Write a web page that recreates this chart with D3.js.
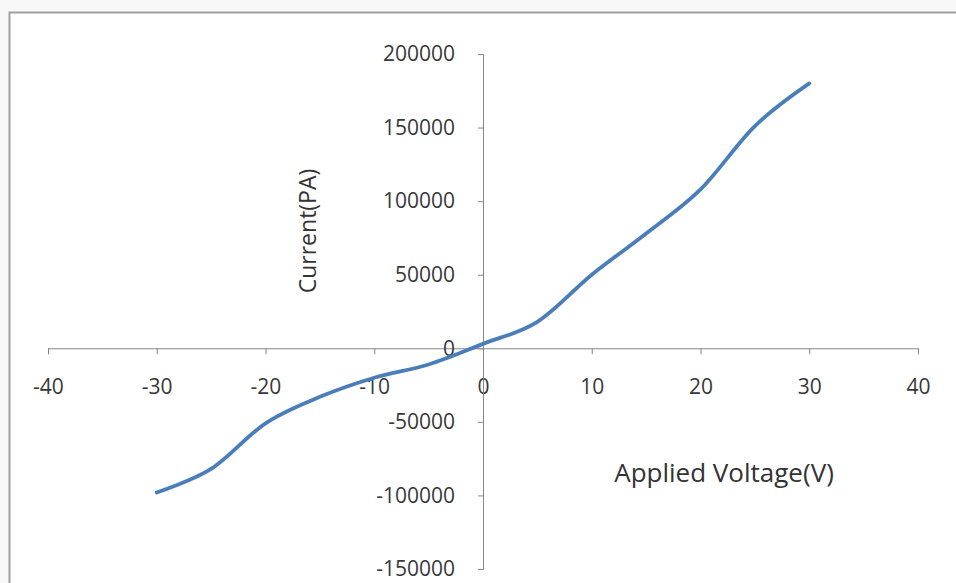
<!DOCTYPE html>
<html>
<head>
<meta charset="utf-8">
<script src="https://cdn.jsdelivr.net/npm/d3@7"></script>
<style>
    body { margin: 0; background: #f8f8f8; }
    svg { display: block; }
    .tick text { font-family: "Open Sans", sans-serif; font-size: 21px; fill: #383838; }
    .axis path, .axis line { stroke: #868686; }
</style>
</head>
<body>
<div id="chart"></div>
<script>

// Applied voltage (V) and measured current (PA)
const voltage = [-30, -25, -20, -15, -10, -5, 0, 5, 10, 15, 20, 25, 30];
const current = [-98000, -82000, -51000, -33000, -20000, -11000, 3000, 18000, 50000, 78000, 108000, 151000, 180000];

// Tick labels
const xTicks = [-40, -30, -20, -10, 0, 10, 20, 30, 40];
const yTicks = [-150000, -100000, -50000, 0, 50000, 100000, 150000, 200000];

const width = 956, height = 583;

const svg = d3.select("#chart")
    .append("svg")
    .attr("width", width)
    .attr("height", height);

// Chart frame
svg.append("rect")
    .attr("x", 9.5)
    .attr("y", 12.5)
    .attr("width", width)
    .attr("height", height)
    .attr("fill", "#fff")
    .attr("stroke", "#a0a0a0")
    .attr("stroke-width", 2);

// Scales
const x = d3.scaleLinear()
    .domain([-40, 40])
    .range([48, 918]);

const y = d3.scaleLinear()
    .domain([-150000, 200000])
    .range([569, 54]);

// X axis crosses at y = 0
svg.append("g")
    .attr("class", "axis")
    .attr("transform", `translate(0, ${y(0)})`)
    .call(d3.axisBottom(x).tickValues(xTicks).tickSize(6).tickPadding(25).tickFormat((d) => String(d)));

// Y axis crosses at x = 0
svg.append("g")
    .attr("class", "axis")
    .attr("transform", `translate(${x(0)}, 0)`)
    .call(d3.axisLeft(y).tickValues(yTicks).tickSize(5).tickPadding(23).tickFormat((d) => String(d)));

// Smoothed line
const line = d3.line()
    .x((d, i) => x(voltage[i]))
    .y((d) => y(d))
    .curve(d3.curveCatmullRom.alpha(0));

svg.append("path")
    .datum(current)
    .attr("fill", "none")
    .attr("stroke", "#4a7ebb")
    .attr("stroke-width", 3.8)
    .attr("stroke-linecap", "round")
    .attr("d", line);

// Axis titles
svg.append("text")
    .attr("transform", "translate(316, 231) rotate(-90)")
    .attr("text-anchor", "middle")
    .attr("font-family", "Open Sans, sans-serif")
    .attr("font-size", 23)
    .attr("fill", "#333")
    .text("Current(PA)");

svg.append("text")
    .attr("x", 724)
    .attr("y", 482)
    .attr("text-anchor", "middle")
    .attr("font-family", "Open Sans, sans-serif")
    .attr("font-size", 26)
    .attr("fill", "#333")
    .text("Applied Voltage(V)");

</script>
</body>
</html>
